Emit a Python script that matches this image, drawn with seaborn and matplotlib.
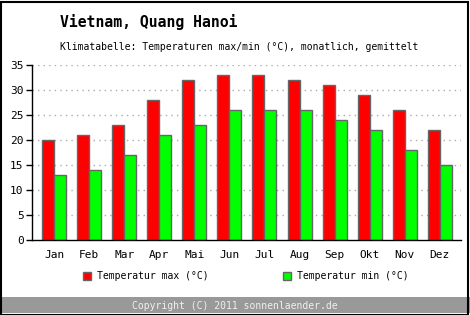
import matplotlib
matplotlib.use("Agg")
import matplotlib.pyplot as plt
import seaborn as sns
import pandas as pd
from matplotlib.patches import Rectangle

months = ["Jan", "Feb", "Mar", "Apr", "Mai", "Jun", "Jul", "Aug", "Sep", "Okt", "Nov", "Dez"]
temp_max = [20, 21, 23, 28, 32, 33, 33, 32, 31, 29, 26, 22]
temp_min = [13, 14, 17, 21, 23, 26, 26, 26, 24, 22, 18, 15]
series = ["Temperatur max (°C)", "Temperatur min (°C)"]
title = "Vietnam, Quang Hanoi"
subtitle = "Klimatabelle: Temperaturen max/min (°C), monatlich, gemittelt"
copyright_text = "Copyright (C) 2011 sonnenlaender.de"

df = pd.DataFrame({
    "Monat": months * 2,
    "Wert": temp_max + temp_min,
    "Serie": [series[0]] * 12 + [series[1]] * 12,
})

sns.set_style("white")
plt.rcParams["font.family"] = ["DejaVu Sans Mono", "DejaVu Sans"]
plt.rcParams["text.color"] = "black"
plt.rcParams["xtick.labelcolor"] = "black"
plt.rcParams["ytick.labelcolor"] = "black"

W, H = 470, 315
fig = plt.figure(figsize=(W / 100, H / 100), dpi=100)
fig.patch.set_facecolor("white")

ax = fig.add_axes([32 / W, (H - 240) / H, (461 - 32) / W, (240 - 65) / H])
sns.barplot(data=df, x="Monat", y="Wert", hue="Serie", order=months,
            palette=["#ff0000", "#00ff00"], width=0.685, ax=ax,
            edgecolor="#666666", linewidth=1.0, saturation=1, legend=False)

ax.set_xlim(-0.636, 11.61)
ax.set_ylim(0, 35)
ax.set_yticks(range(0, 36, 5))
ax.set_xlabel("")
ax.set_ylabel("")
for s in ["top", "right"]:
    ax.spines[s].set_visible(False)
ax.spines["left"].set_color("black")
ax.spines["bottom"].set_color("black")
ax.spines["left"].set_linewidth(1)
ax.spines["bottom"].set_linewidth(1)
ax.tick_params(axis="y", left=True, length=4, width=1, color="black", labelcolor="black", labelsize=8, pad=2)
ax.tick_params(axis="x", bottom=False, labelcolor="black", labelsize=8, pad=4)
for y in range(5, 36, 5):
    ax.axhline(y, color="#aaaaaa", linestyle=(0, (1, 3)), linewidth=1, zorder=0)
ax.set_axisbelow(True)

fig.text(60 / W, 1 - 22 / H, title, fontsize=10.6, fontweight="bold", va="center", ha="left", color="black")
fig.text(60 / W, 1 - 47 / H, subtitle, fontsize=7, va="center", ha="left", color="black")

# legend
colors = ["#ff0000", "#00ff00"]
for i, (lab, c) in enumerate(zip(series, colors)):
    x0 = [83, 283][i]
    fig.patches.append(Rectangle((x0 / W, 1 - 280 / H), 8 / W, 8 / H, transform=fig.transFigure,
                                 facecolor=c, edgecolor="#666666", linewidth=1, figure=fig))
    fig.text((x0 + 14) / W, 1 - 276 / H, lab, fontsize=7, va="center", ha="left", color="black")

# copyright bar
fig.patches.append(Rectangle((0, 2 / H), 1, 16 / H, transform=fig.transFigure,
                             facecolor="#999999", edgecolor="none", figure=fig))
fig.text(235 / W, 1 - 306 / H, copyright_text, fontsize=7, color="#f0f0f0", va="center", ha="center")

# border
fig.patches.append(Rectangle((0.5 / W, 0.5 / H), 1 - 3 / W, 1 - 2 / H, transform=fig.transFigure,
                             facecolor="none", edgecolor="black", linewidth=1.5, figure=fig))

fig.savefig("out.png", dpi=100)
